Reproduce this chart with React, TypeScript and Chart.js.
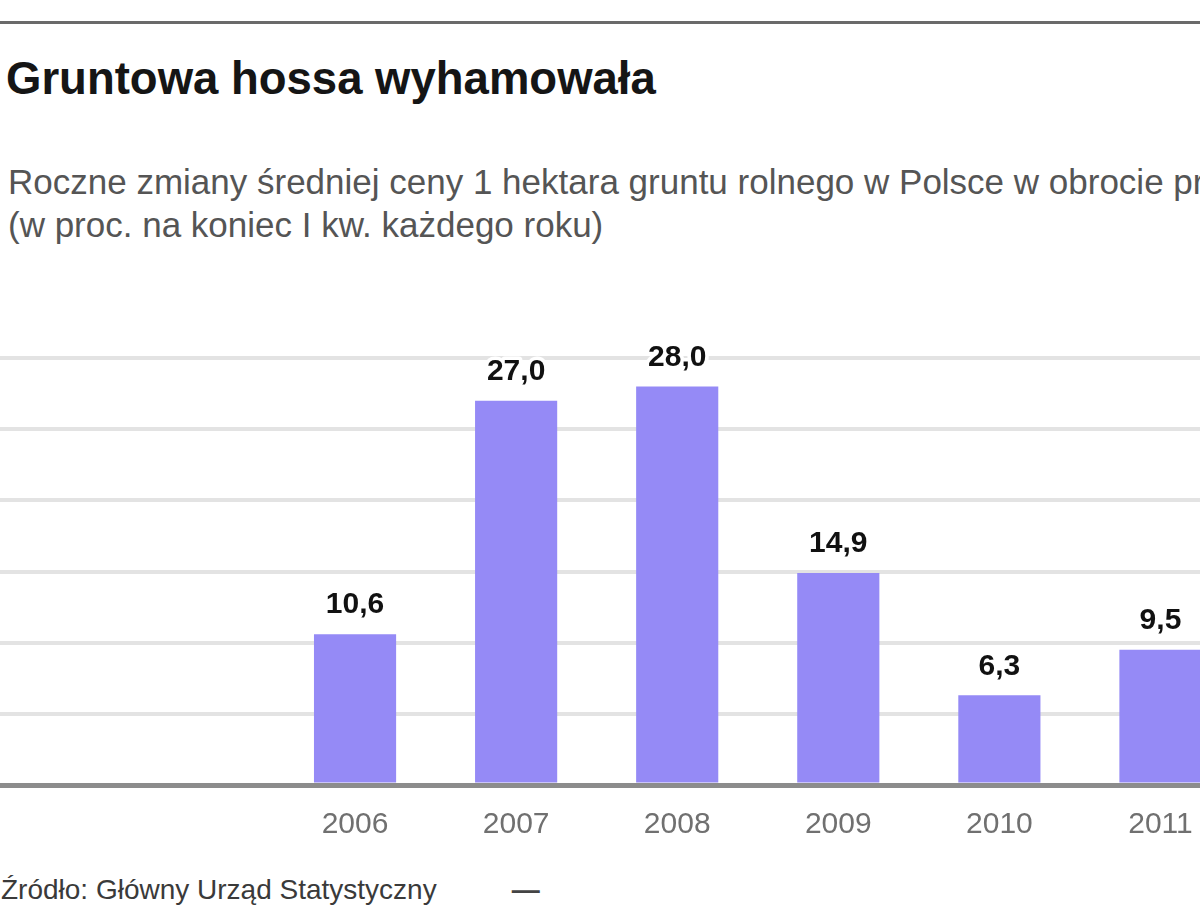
import React, { useEffect, useRef } from "react";
import { Chart, registerables } from "chart.js";

Chart.register(...registerables);

// data
const years = ["2006", "2007", "2008", "2009", "2010", "2011"];
const priceChange = [10.6, 27.0, 28.0, 14.9, 6.3, 9.5];
const yTicks = [0, 5, 10, 15, 20, 25, 30];

const FONT = '"Liberation Sans", Arial, sans-serif';
const BAR_COLOR = "#958af6";

// value labels above bars, with a white halo
const valueLabels = {
  id: "valueLabels",
  afterDatasetsDraw(chart: any) {
    const ctx = chart.ctx;
    const meta = chart.getDatasetMeta(0);
    ctx.save();
    ctx.font = `bold 30px ${FONT}`;
    ctx.textAlign = "center";
    ctx.textBaseline = "bottom";
    ctx.lineJoin = "round";
    meta.data.forEach((bar: any, i: number) => {
      const txt = priceChange[i].toFixed(1).replace(".", ",");
      const y = bar.y - 14;
      ctx.strokeStyle = "#ffffff";
      ctx.lineWidth = 7;
      ctx.strokeText(txt, bar.x, y);
      ctx.fillStyle = "#111111";
      ctx.fillText(txt, bar.x, y);
    });
    ctx.restore();
  },
};

const App: React.FC = () => {
  const canvasRef = useRef<HTMLCanvasElement | null>(null);
  const chartRef = useRef<Chart | null>(null);

  useEffect(() => {
    const ctx = canvasRef.current?.getContext("2d");
    if (!ctx) return;
    if (chartRef.current) chartRef.current.destroy();

    chartRef.current = new Chart(ctx, {
      type: "bar",
      data: {
        labels: years,
        datasets: [
          {
            data: priceChange,
            backgroundColor: BAR_COLOR,
            borderWidth: 0,
            categoryPercentage: 1,
            barPercentage: 0.51,
          },
        ],
      },
      options: {
        responsive: false,
        animation: false,
        layout: { padding: { top: 58, left: 0, right: 0, bottom: 0 } },
        plugins: {
          legend: { display: false },
          tooltip: { enabled: false },
        },
        scales: {
          x: {
            grid: { display: false, drawTicks: false },
            border: { display: false },
            ticks: {
              color: "#707070",
              font: { family: FONT, size: 30 },
              padding: 22,
            },
            afterFit: (scale: any) => {
              scale.height = 75;
            },
          },
          y: {
            min: 0,
            max: 30,
            afterBuildTicks: (scale: any) => {
              scale.ticks = yTicks.map((v) => ({ value: v }));
            },
            border: { display: false },
            grid: {
              drawTicks: true,
              tickLength: 276,
              color: (c: any) => (c.tick && c.tick.value === 0 ? "#8c8c8c" : "#e3e3e3"),
              lineWidth: (c: any) => (c.tick && c.tick.value === 0 ? 5 : 4),
            },
            ticks: { display: false },
            afterFit: (scale: any) => {
              scale.width = 274.5;
            },
          },
        },
      },
      plugins: [valueLabels],
    });

    return () => {
      if (chartRef.current) {
        chartRef.current.destroy();
        chartRef.current = null;
      }
    };
  }, []);

  return (
    <div
      style={{
        position: "absolute",
        left: 0,
        top: 0,
        width: 1200,
        height: 923,
        overflow: "hidden",
        background: "#ffffff",
        fontFamily: FONT,
      }}
    >
      <div
        style={{
          position: "absolute",
          left: 0,
          top: 21,
          width: 1200,
          height: 3,
          background: "#6a6a6a",
        }}
      />
      <div
        style={{
          position: "absolute",
          left: 6,
          top: 56,
          fontSize: 45.5,
          lineHeight: "45px",
          fontWeight: "bold",
          color: "#151515",
          whiteSpace: "nowrap",
        }}
      >
        Gruntowa hossa wyhamowała
      </div>
      <div
        style={{
          position: "absolute",
          left: 8,
          top: 160,
          fontSize: 35,
          lineHeight: "43px",
          color: "#555555",
          whiteSpace: "nowrap",
        }}
      >
        Roczne zmiany średniej ceny 1 hektara gruntu rolnego w Polsce w obrocie prywatnym
        <br />
        (w proc. na koniec I kw. każdego roku)
      </div>
      <canvas
        ref={canvasRef}
        width={1241}
        height={560}
        style={{ position: "absolute", left: 0, top: 300, display: "block" }}
      />
      <div
        style={{
          position: "absolute",
          left: 1,
          top: 876,
          fontSize: 28,
          lineHeight: "28px",
          color: "#3a3a3a",
          whiteSpace: "nowrap",
        }}
      >
        Źródło: Główny Urząd Statystyczny
        <span style={{ marginLeft: 75, fontWeight: "bold", color: "#444" }}>—</span>
      </div>
    </div>
  );
};

export default App;
